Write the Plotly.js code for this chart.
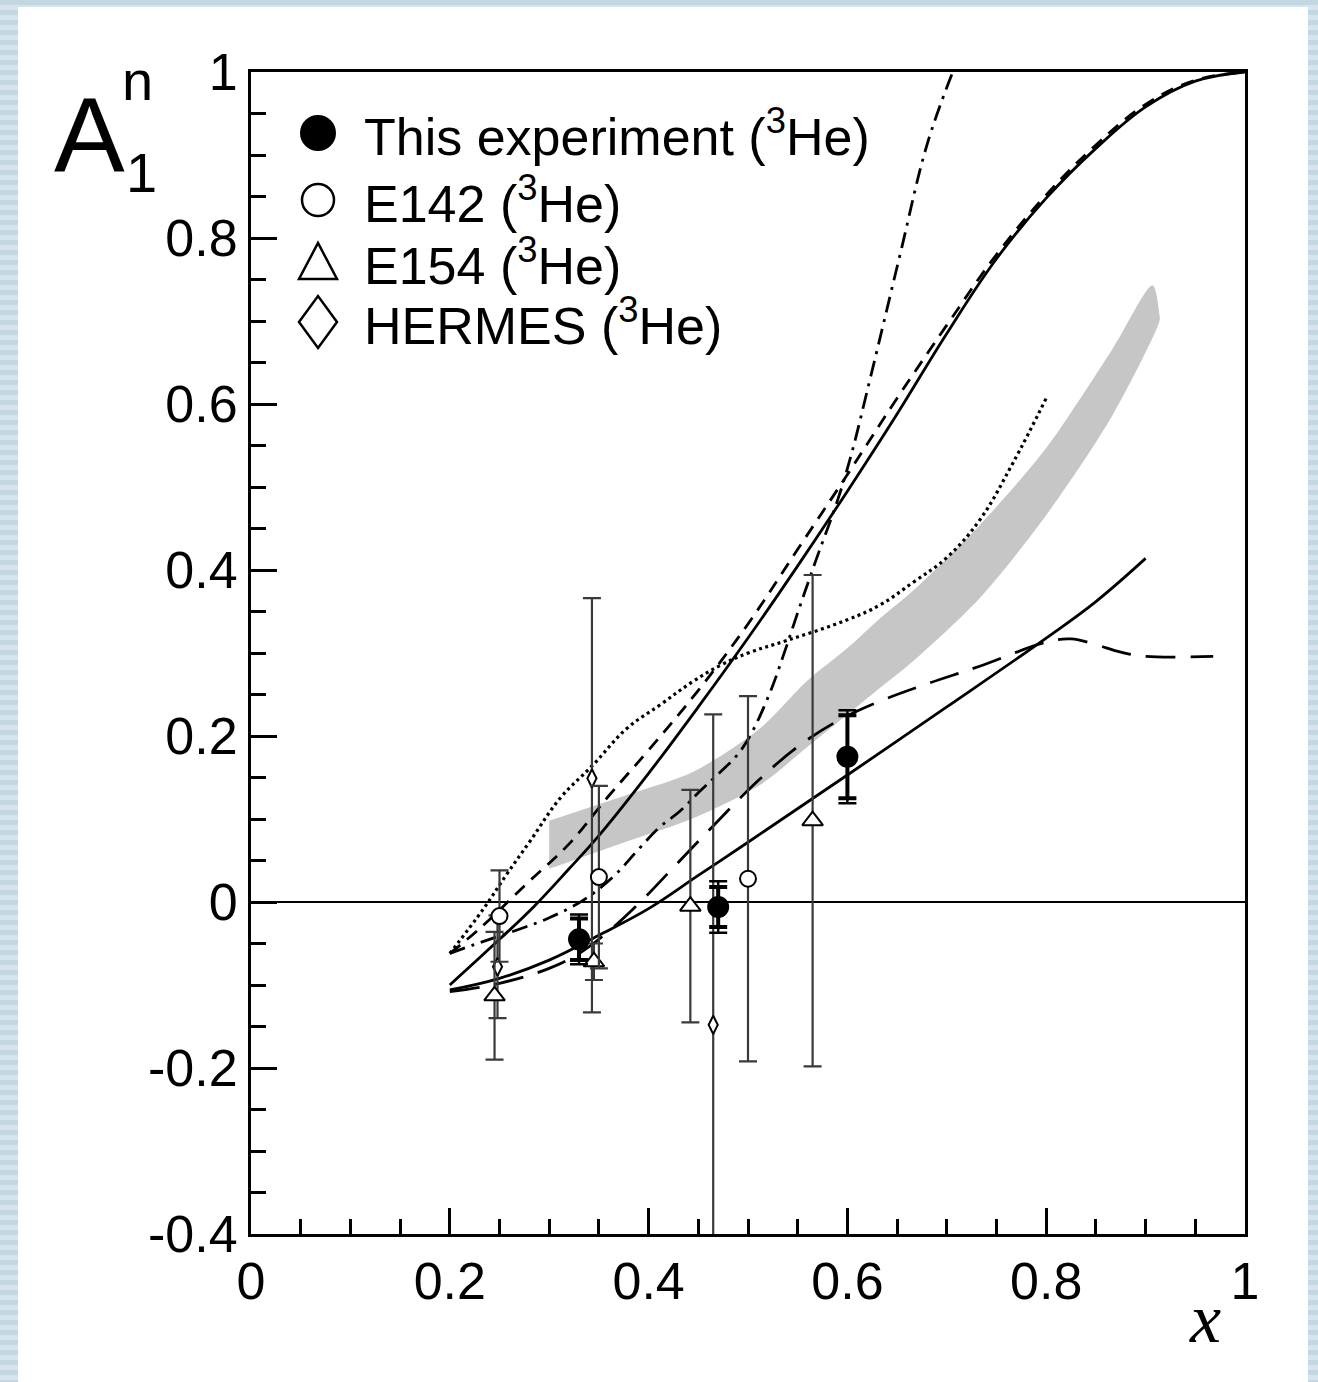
<!DOCTYPE html>
<html>
<head>
<meta charset="utf-8">
<script src="https://cdn.plot.ly/plotly-3.0.1.min.js"></script>
<style>
html,body{margin:0;padding:0;width:1318px;height:1382px;overflow:hidden;}
body{background:repeating-linear-gradient(to bottom,#c3d7e3 0px,#c3d7e3 5px,#d6e4ed 5px,#d6e4ed 10px);}
#panel{position:absolute;left:18px;top:7px;width:1290px;height:1375px;background:#fff;}
#chart{position:absolute;left:0;top:0;width:1318px;height:1382px;}
</style>
</head>
<body>
<div id="panel"></div>
<div id="chart"></div>
<script>
// ---------- data ----------
// This experiment (3He)
const thisX = [0.33, 0.47, 0.60];
const thisY = [-0.045, -0.006, 0.175];
const thisErrStat = [0.025, 0.024, 0.05];
const thisErrTot = [0.03, 0.031, 0.056];
// E142 (3He)
const e142X = [0.25, 0.35, 0.50];
const e142Y = [-0.017, 0.03, 0.028];
const e142Err = [0.055, 0.11, 0.22];
// E154 (3He)
const e154X = [0.245, 0.345, 0.442, 0.565];
const e154Y = [-0.113, -0.072, -0.005, 0.098];
const e154Err = [0.077, 0.022, 0.14, 0.296];
// HERMES (3He)
const hermesX = [0.248, 0.343, 0.465];
const hermesY = [-0.078, 0.149, -0.148];
const hermesErrPlus = [0.062, 0.217, 0.374];
const hermesErrMinus = [0.062, 0.282, 0.45];

// model curves
const solidUpX = [0.2,0.25,0.285,0.32,0.35,0.4,0.45,0.5,0.55,0.6,0.65,0.7,0.75,0.8,0.85,0.9,0.95,1.0];
const solidUpY = [-0.10,-0.045,-0.005,0.04,0.08,0.155,0.235,0.318,0.405,0.495,0.588,0.685,0.775,0.848,0.908,0.958,0.989,1.0];
const dashUpX = [0.2,0.23,0.28,0.32,0.36,0.4,0.45,0.5,0.55,0.6,0.65,0.7,0.75,0.8,0.85,0.9,0.95,1.0];
const dashUpY = [-0.062,-0.032,0.025,0.07,0.128,0.183,0.255,0.335,0.425,0.515,0.607,0.695,0.78,0.852,0.912,0.961,0.99,1.0];
const dottedX = [0.2,0.234,0.257,0.28,0.311,0.344,0.378,0.411,0.445,0.472,0.5,0.539,0.6,0.633,0.666,0.7,0.733,0.767,0.8];
const dottedY = [-0.062,-0.008,0.033,0.072,0.125,0.165,0.209,0.237,0.266,0.285,0.3,0.315,0.34,0.358,0.385,0.415,0.46,0.53,0.607];
const dashDotX = [0.2,0.223,0.274,0.3,0.334,0.364,0.391,0.411,0.432,0.452,0.469,0.489,0.502,0.522,0.535,0.549,0.569,0.589,0.603,0.623,0.653,0.68,0.706];
const dashDotY = [-0.062,-0.052,-0.031,-0.019,0.002,0.03,0.065,0.09,0.11,0.134,0.153,0.177,0.2,0.252,0.295,0.345,0.414,0.48,0.535,0.631,0.78,0.912,1.0];
const longDashX = [0.2,0.25,0.3,0.33,0.36,0.39,0.43,0.47,0.51,0.55,0.59,0.635,0.683,0.733,0.8,0.825,0.85,0.875,0.9,0.968];
const longDashY = [-0.108,-0.098,-0.08,-0.062,-0.035,-0.002,0.048,0.098,0.146,0.187,0.218,0.243,0.264,0.284,0.313,0.317,0.31,0.301,0.296,0.296];
const solidLowX = [0.2,0.25,0.3,0.35,0.4,0.45,0.5,0.6,0.7,0.8,0.85,0.9];
const solidLowY = [-0.106,-0.092,-0.07,-0.04,-0.008,0.032,0.072,0.153,0.235,0.318,0.362,0.414];
// shaded band (RCQM)
const bandUpX = [0.3,0.378,0.445,0.512,0.559,0.6,0.633,0.666,0.733,0.8,0.867,0.907,0.914];
const bandUpY = [0.098,0.129,0.157,0.209,0.266,0.306,0.342,0.375,0.454,0.547,0.667,0.743,0.707];
const bandLowX = [0.3,0.378,0.445,0.512,0.559,0.633,0.666,0.733,0.8,0.867,0.914];
const bandLowY = [0.04,0.073,0.101,0.141,0.186,0.258,0.29,0.366,0.466,0.587,0.70];

// axes ticks
const xTickVals = [0,0.2,0.4,0.6,0.8,1];
const xTickText = ['0','0.2','0.4','0.6','0.8','1'];
const yTickVals = [-0.4,-0.2,0,0.2,0.4,0.6,0.8,1];
const yTickText = ['-0.4','-0.2','0','0.2','0.4','0.6','0.8','1'];

// legend
const legendLabels = ['This experiment (<sup>3</sup>He)','E142 (<sup>3</sup>He)','E154 (<sup>3</sup>He)','HERMES (<sup>3</sup>He)'];

// ---------- traces ----------
const bandX = bandUpX.concat(bandLowX.slice().reverse());
const bandY = bandUpY.concat(bandLowY.slice().reverse());
const lw = 2.8;
const sm = 1.1;
const traces = [
  {x: bandX, y: bandY, mode:'lines', fill:'toself', fillcolor:'#c6c6c6', line:{width:0, color:'#c6c6c6', shape:'spline', smoothing:0.8}, hoverinfo:'skip'},
  {x: solidUpX, y: solidUpY, mode:'lines', line:{color:'#000', width:lw, shape:'spline', smoothing:sm}},
  {x: dashUpX, y: dashUpY, mode:'lines', line:{color:'#000', width:lw, dash:'13px,9px', shape:'spline', smoothing:sm}},
  {x: dottedX, y: dottedY, mode:'lines', line:{color:'#000', width:3.2, dash:'3px,3.5px', shape:'spline', smoothing:sm}},
  {x: dashDotX, y: dashDotY, mode:'lines', line:{color:'#000', width:lw, dash:'16px,7px,3px,7px', shape:'spline', smoothing:sm}},
  {x: longDashX, y: longDashY, mode:'lines', line:{color:'#000', width:lw, dash:'30px,15px', shape:'spline', smoothing:sm}},
  {x: solidLowX, y: solidLowY, mode:'lines', line:{color:'#000', width:lw, shape:'spline', smoothing:sm}},
  // HERMES
  {x: hermesX, y: hermesY, mode:'markers',
   marker:{symbol:'diamond-tall', size:13, color:'#fff', line:{color:'#000', width:2}},
   error_y:{type:'data', symmetric:false, array:hermesErrPlus, arrayminus:hermesErrMinus, color:'#3a3a3a', thickness:2.2, width:9}},
  // E154
  {x: e154X, y: e154Y, mode:'markers',
   marker:{symbol:'triangle-up', size:18, color:'#fff', line:{color:'#000', width:2}},
   error_y:{type:'data', array:e154Err, color:'#3a3a3a', thickness:2.2, width:9}},
  // E142
  {x: e142X, y: e142Y, mode:'markers',
   marker:{symbol:'circle', size:16, color:'#fff', line:{color:'#000', width:2}},
   error_y:{type:'data', array:e142Err, color:'#3a3a3a', thickness:2.2, width:9}},
  // This experiment (total then statistical)
  {x: thisX, y: thisY, mode:'markers', marker:{size:1, color:'rgba(0,0,0,0)'},
   error_y:{type:'data', array:thisErrTot, color:'#000', thickness:2.5, width:9}},
  {x: thisX, y: thisY, mode:'markers',
   marker:{symbol:'circle', size:22, color:'#000'},
   error_y:{type:'data', array:thisErrStat, color:'#000', thickness:4, width:9}}
];

// ---------- layout ----------
const px2x = p => (p - 251) / 994;
const py2y = p => (1234 - p) / 1162;
const legendRowsY = [133, 200, 262, 322];

const annotations = [];
legendLabels.forEach((t, i) => {
  annotations.push({xref:'paper', yref:'paper', x:px2x(362), y:py2y(legendRowsY[i]), xanchor:'left', yanchor:'middle',
    text:t, showarrow:false, font:{size:52, family:'Liberation Sans, Arial, sans-serif', color:'#000'}});
});
// y title A_1^n
annotations.push({xref:'paper', yref:'paper', x:px2x(52), y:py2y(134), xanchor:'left', yanchor:'middle',
  text:'A', showarrow:false, font:{size:106, family:'Liberation Sans, Arial, sans-serif', color:'#000'}});
annotations.push({xref:'paper', yref:'paper', x:px2x(120), y:py2y(80), xanchor:'left', yanchor:'middle',
  text:'n', showarrow:false, font:{size:56, family:'Liberation Sans, Arial, sans-serif', color:'#000'}});
annotations.push({xref:'paper', yref:'paper', x:px2x(124), y:py2y(172), xanchor:'left', yanchor:'middle',
  text:'1', showarrow:false, font:{size:56, family:'Liberation Sans, Arial, sans-serif', color:'#000'}});
// x title
annotations.push({xref:'paper', yref:'paper', x:px2x(1205), y:py2y(1318), xanchor:'center', yanchor:'middle',
  text:'<i>x</i>', showarrow:false, font:{size:70, family:'Liberation Serif, Times New Roman, serif', color:'#000'}});

const shapes = [
  {type:'circle', xref:'paper', yref:'paper', xsizemode:'pixel', ysizemode:'pixel',
   xanchor:px2x(318), yanchor:py2y(legendRowsY[0]), x0:-17, x1:17, y0:-17, y1:17,
   fillcolor:'#000', line:{color:'#000', width:2}},
  {type:'circle', xref:'paper', yref:'paper', xsizemode:'pixel', ysizemode:'pixel',
   xanchor:px2x(318), yanchor:py2y(legendRowsY[1]), x0:-16, x1:16, y0:-16, y1:16,
   fillcolor:'#fff', line:{color:'#000', width:2.5}},
  {type:'path', xref:'paper', yref:'paper', xsizemode:'pixel', ysizemode:'pixel',
   xanchor:px2x(318), yanchor:py2y(legendRowsY[2]), path:'M-19,-17 L19,-17 L0,19 Z',
   fillcolor:'#fff', line:{color:'#000', width:2.5}},
  {type:'path', xref:'paper', yref:'paper', xsizemode:'pixel', ysizemode:'pixel',
   xanchor:px2x(318), yanchor:py2y(legendRowsY[3]), path:'M0,-26 L19,0 L0,26 L-19,0 Z',
   fillcolor:'#fff', line:{color:'#000', width:2.5}}
];

const axisCommon = {
  ticks:'inside', ticklen:26, tickwidth:3, tickcolor:'#000',
  showline:true, linewidth:3, linecolor:'#000', mirror:true,
  showgrid:false, tickfont:{size:52, family:'Liberation Sans, Arial, sans-serif', color:'#000'},
  tickmode:'array'
};

const layout = {
  width:1318, height:1382,
  margin:{l:251, r:73, t:72, b:148, pad:0},
  paper_bgcolor:'rgba(0,0,0,0)', plot_bgcolor:'rgba(0,0,0,0)',
  showlegend:false,
  font:{family:'Liberation Sans, Arial, sans-serif', color:'#000'},
  xaxis:Object.assign({}, axisCommon, {
    range:[0,1], tickvals:xTickVals, ticktext:xTickText, zeroline:false,
    minor:{tickmode:'linear', tick0:0, dtick:0.05, ticks:'inside', ticklen:15, tickwidth:3, tickcolor:'#000', showgrid:false}
  }),
  yaxis:Object.assign({}, axisCommon, {
    range:[-0.4,1], tickvals:yTickVals, ticktext:yTickText,
    zeroline:true, zerolinecolor:'#000', zerolinewidth:2.5,
    minor:{tickmode:'linear', tick0:0, dtick:0.05, ticks:'inside', ticklen:15, tickwidth:3, tickcolor:'#000', showgrid:false}
  }),
  annotations: annotations,
  shapes: shapes
};

Plotly.newPlot('chart', traces, layout, {displayModeBar:false, staticPlot:true});
</script>
</body>
</html>
